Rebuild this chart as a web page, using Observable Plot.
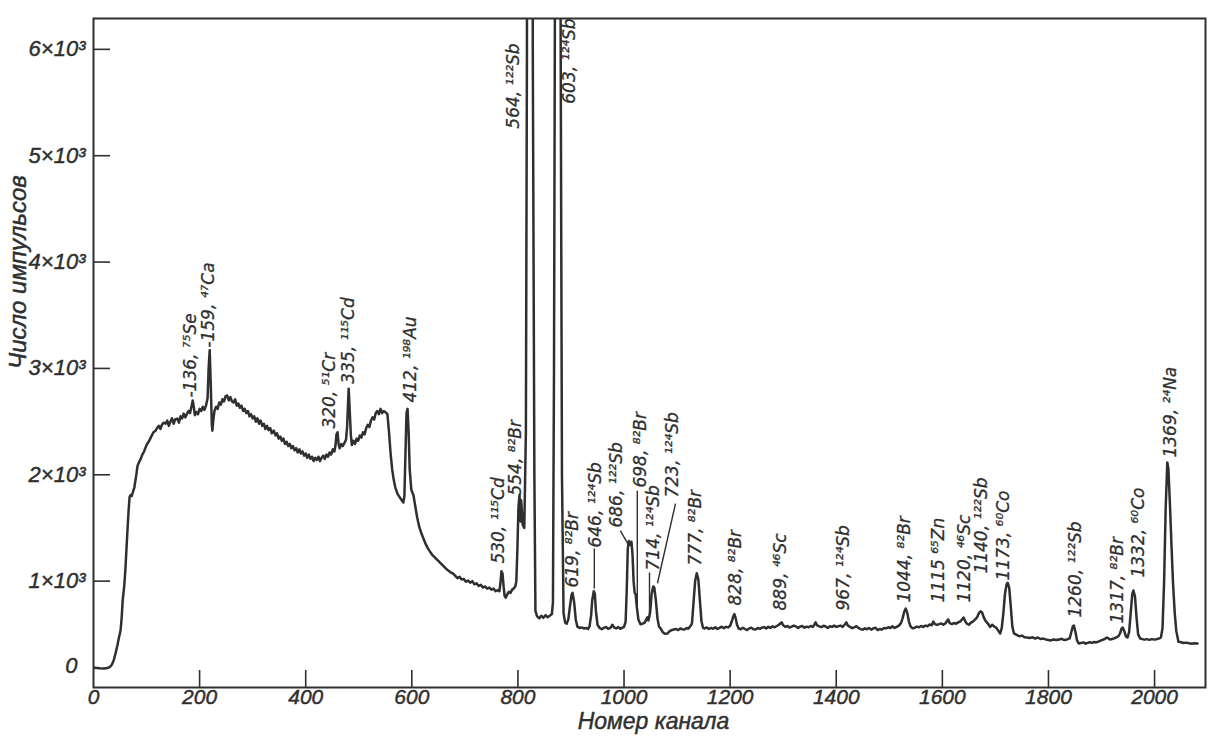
<!DOCTYPE html>
<html><head><meta charset="utf-8">
<script src="https://cdn.jsdelivr.net/npm/d3@7"></script>
<script src="https://cdn.jsdelivr.net/npm/@observablehq/plot@0.6"></script>
<style>
body{margin:0;background:#fff;}
#chart svg{display:block;}
</style></head><body><div id="chart"></div>
<script>
// gamma spectrum: [channel, counts]
const spectrum = [
[0,188],[6,184],[12,180],[18,178],[24,180],[30,190],[34,210],[38,254],[42,330],[45,395],[48,470],[51,536],[53,650],[55,818],[58,960],[60,1100],[62,1290],[64,1476],[66,1650],[68,1790],[70,1810],[72,1800],[75,1850],[77,1880],[79,1945],[81,2010],[83,2086],[86,2120],[89,2150],[92,2190],[95,2215],[98,2255],[101,2290],[104,2310],[107,2340],[110,2370],[113,2400],[117,2415],[120,2440],[123,2460],[126,2430],[129,2470],[132,2490],[136,2480],
[139,2510],[142,2460],[145,2500],[148,2530],[151,2480],[154,2520],[158,2528],[161,2490],[164,2550],[167,2530],[170,2575],[173,2540],[176,2570],[179,2600],[182,2580],[185,2650],[187,2698],[189,2640],[191,2560],[194,2590],[197,2570],[200,2620],[203,2600],[206,2640],[209,2610],[212,2650],[215,2720],[217,3000],[219,3170],[221,2850],[223,2480],[224,2415],[226,2520],[228,2600],[231,2640],[234,2620],
[237,2680],[240,2660],[243,2710],[246,2690],[249,2740],[252,2745],[255,2700],[258,2730],[261,2690],[264,2680],[267,2710],[270,2650],[273,2670],[276,2630],[279,2650],[282,2600],[285,2620],[288,2580],[291,2600],[294,2550],[297,2570],[300,2530],[303,2550],[306,2500],[309,2530],[312,2480],[315,2509],[318,2460],[321,2480],[324,2430],[327,2460],[330,2420],[333,2440],[336,2390],[340,2415],[343,2370],[346,2390],[349,2340],[352,2360],[355,2320],[358,2340],[361,2290],[364,2310],[367,2270],[370,2290],[373,2250],[376,2270],[379,2230],[382,2250],[385,2210],[388,2240],[391,2200],[394,2220],[397,2180],[400,2200],[403,2160],[406,2190],[409,2150],[412,2170],[415,2130],[418,2160],[421,2140],[424,2170],[427,2130],[430,2160],[433,2180],[436,2150],[439,2190],[442,2170],[445,2210],[448,2190],[451,2240],[454,2220],[456,2270],[458,2380],[460,2400],[462,2290],[464,2250],[467,2290],[470,2270],[473,2300],[476,2330],[478,2450],[480,2700],[481,2810],[483,2600],[485,2380],[487,2280],[490,2320],[493,2290],[496,2340],[499,2320],[502,2370],[505,2350],[508,2400],[511,2380],[514,2440],[517,2470],[520,2450],[523,2510],[526,2540],[529,2520],[532,2580],[535,2600],[538,2570],[541,2620],[544,2580],[547,2600],[550,2590],[554,2570],[557,2400],[560,2200],[563,2050],[566,1950],[569,1880],[573,1820],[577,1790],[581,1760],[584,1740],[586,1800],[588,2200],[590,2580],[592,2620],[594,2400],[596,2050],[599,1860],[603,1810],[606,1720],[610,1600],[614,1510],[618,1450],
[622,1400],[626,1350],[630,1310],[634,1280],[638,1250],[642,1230],[646,1210],[650,1190],[654,1170],[658,1150],[662,1130],[666,1110],[670,1095],[674,1080],[678,1070],[682,1050],[686,1028],[690,1040],[694,1015],[698,1020],[702,995],[706,1005],[710,985],[714,1000],[718,970],[722,980],[726,955],[730,965],[734,940],[738,950],[742,930],[746,940],[750,920],[754,930],[758,905],[762,915],[765,905],[767,980],[769,1094],[771,1070],[773,950],[775,860],[777,845],[780,877],[783,900],[786,890],[789,920],[792,930],[795,950],[797,1000],[799,1300],[801,1700],[803,1810],[804,1700],[805,1560],[806,1760],[807,1700],[809,1530],[812,1500],[815,2400],[817,6000],[818,30000],[827,30000],[828,6000],[831,2000],[833,720],
[836,670],[840,650],[844,675],[848,655],[852,680],[856,660],[860,675],[864,690],[866,800],[868,3000],[870,7000],[871,30000],[879,30000],[880,7000],[883,2000],[886,700],[889,610],[892,600],[895,640],[898,760],[901,870],[903,890],[906,800],[909,640],[912,572],[916,560],[920,565],[924,555],[928,560],[932,550],[935,575],[938,680],[940,820],[943,905],[945,880],[947,720],[950,590],[954,560],[958,548],[962,560],[966,568],[970,552],[974,558],[978,590],[981,565],[985,555],[989,568],[993,552],[996,560],[1000,570],[1003,620],[1005,900],[1007,1300],[1009,1377],[1012,1340],[1014,1370],[1016,1250],[1018,1000],[1020,890],[1022,877],[1024,760],[1027,640],[1031,594],[1035,600],[1039,610],[1042,640],[1044,660],[1046,630],[1049,700],[1052,880],[1055,950],[1057,940],[1060,820],[1063,650],[1066,570],[1069,555],[1073,520],[1077,505],[1082,508],[1086,530],[1090,540],[1094,545],[1098,550],[1102,540],[1106,555],[1110,548],[1114,545],[1118,560],[1121,552],[1124,570],[1128,600],[1131,800],[1134,1000],[1137,1075],[1140,1020],[1143,820],[1146,620],[1149,560],
[1152,555],[1156,565],[1160,550],[1164,560],[1168,552],[1172,566],[1176,550],[1180,560],[1184,572],[1188,558],[1192,570],[1196,565],[1200,580],[1203,620],[1206,670],[1208,690],[1210,660],[1213,590],[1216,555],[1220,548],[1224,562],[1228,550],[1232,540],[1236,556],[1240,562],[1244,548],[1248,545],[1252,560],[1256,552],[1260,562],[1264,568],[1268,556],[1272,570],[1276,560],[1280,575],[1284,566],[1288,578],[1292,590],[1295,605],[1297,612],[1300,585],[1304,570],[1308,578],[1312,564],[1316,572],[1320,582],[1324,574],[1328,560],[1332,572],[1336,578],[1340,562],[1344,572],[1348,566],[1352,578],[1356,570],[1359,592],[1361,612],[1364,585],[1368,575],[1372,568],[1376,580],[1380,574],[1384,560],[1388,576],[1392,570],[1396,582],[1400,570],[1404,576],[1408,582],[1412,570],[1416,592],[1419,612],[1422,582],[1426,570],[1430,558],[1434,566],[1438,576],[1442,560],[1446,548],[1450,544],[1454,556],[1458,548],[1462,560],[1466,544],[1470,556],[1474,562],[1478,540],[1482,550],[1486,544],[1490,560],[1494,556],[1498,566],[1502,560],[1506,576],[1510,560],[1514,570],[1518,582],[1522,605],[1525,650],[1528,710],[1531,742],[1534,700],[1537,620],[1540,575],[1544,556],[1548,562],[1552,572],[1556,566],[1560,578],[1564,570],[1568,582],[1572,576],[1576,592],[1580,585],[1583,620],[1586,596],[1590,588],[1594,596],[1598,602],[1602,590],[1606,604],[1609,628],[1611,640],[1614,605],[1618,596],[1622,606],[1626,600],[1630,612],[1634,622],[1637,640],[1640,658],[1643,625],[1646,600],[1650,590],[1654,610],[1658,622],[1662,640],[1666,665],[1669,700],[1672,716],[1675,705],[1678,660],[1682,622],[1686,600],[1690,570],[1694,590],[1698,572],[1702,560],[1706,530],[1709,508],[1712,560],[1715,700],[1718,880],[1721,970],[1723,985],[1726,940],[1729,760],[1732,570],[1735,508],[1740,495],[1745,482],[1750,488],[1755,472],[1760,470],[1765,466],[1770,472],[1775,460],[1780,470],[1785,456],[1790,460],[1795,452],[1800,446],[1804,442],[1810,452],[1815,446],[1820,452],[1825,458],[1830,446],[1835,452],[1840,462],[1843,520],[1846,575],[1848,583],[1851,520],[1854,440],[1857,414],[1861,418],[1866,424],[1870,412],[1874,420],[1878,426],[1882,420],[1886,428],[1890,424],[1894,432],[1898,440],[1902,448],[1906,456],[1910,470],[1913,462],[1916,452],[1920,456],[1924,462],[1928,472],[1932,482],[1935,510],[1938,555],[1940,564],[1943,530],[1946,480],[1949,470],[1952,520],[1955,700],[1958,880],[1960,912],[1963,860],[1966,660],[1969,500],[1973,460],[1977,455],[1981,450],[1985,455],[1990,448],[1995,455],[2000,450],[2005,456],[2009,462],[2012,470],[2015,560],[2018,1000],[2021,1700],[2024,2115],[2026,2060],[2029,1720],[2032,1320],[2035,960],[2038,700],[2041,530],[2045,430],[2050,426],[2055,418],[2060,422],[2065,416],[2070,412],[2075,416],[2081,414]
];

// axis ticks
const xTicks = [0, 200, 400, 600, 800, 1000, 1200, 1400, 1600, 1800, 2000];
const xTickLabels = ["0","200","400","600","800","1000","1200","1400","1600","1800","2000"];
const yTicks = [1000, 2000, 3000, 4000, 5000, 6000];
const yTickLabels = ["1×10³","2×10³","3×10³","4×10³","5×10³","6×10³"];

// peak annotations: text, channel of label, count at label foot
const peakText = ["-136, ⁷⁵Se","-159, ⁴⁷Ca","320, ⁵¹Cr","335, ¹¹⁵Cd","412, ¹⁹⁸Au","530, ¹¹⁵Cd","554, ⁸²Br","564, ¹²²Sb","603, ¹²⁴Sb","619, ⁸²Br","646, ¹²⁴Sb","686, ¹²²Sb","698, ⁸²Br","714, ¹²⁴Sb","723, ¹²⁴Sb","777, ⁸²Br","828, ⁸²Br","889, ⁴⁶Sc","967, ¹²⁴Sb","1044, ⁸²Br","1115 ⁶⁵Zn","1120, ⁴⁶Sc","1140, ¹²²Sb","1173, ⁶⁰Co","1260, ¹²²Sb","1317, ⁸²Br","1332, ⁶⁰Co","1369, ²⁴Na"];
const peakChannel = [183,217,445,481,598,763,795,792,897,903,946,986,1031,1056,1091,1135,1210,1295,1414,1529,1593,1642,1674,1715,1851,1930,1970,2030];
const peakCount = [2726,3195,2434,2857,2679,1165,1805,5254,5489,940,1316,1504,1880,1100,1786,1147,771,724,724,799,799,799,1071,1006,658,602,1034,2162];

// leader lines from label to peak
const leaderX1 = [944, 993, 1025, 1048, 1097];
const leaderY1 = [1306, 1475, 1851, 1081, 1729];
const leaderX2 = [944, 1007, 1025, 1048, 1063];
const leaderY2 = [930, 1353, 724, 658, 980];

const ink = "#2f2f2f";
const font = `"Liberation Sans", Arial, sans-serif`;
const supFont = `"DejaVu Sans", sans-serif`;
const idx = (a) => a.map((_, i) => i);
const txt = {fontStyle: "italic", fontFamily: font, fill: ink, stroke: ink, strokeWidth: 0.45};

const plot = Plot.plot({
  width: 1214, height: 740,
  marginLeft: 93, marginRight: 9, marginTop: 18, marginBottom: 53,
  x: {domain: [0, 2096], axis: null},
  y: {domain: [0, 6290], axis: null},
  style: {background: "#fff", color: ink},
  marks: [
    Plot.frame({stroke: ink, strokeWidth: 2}),
    Plot.ruleY(yTicks, {y: d => d, x1: 0, x2: 32, stroke: ink, strokeWidth: 1.6}),
    Plot.ruleX(xTicks.filter(d => d > 0), {x: d => d, y1: 0, y2: 160, stroke: ink, strokeWidth: 1.6}),
    Plot.line(spectrum, {x: d => d[0], y: d => d[1], stroke: ink, strokeWidth: 2.5, strokeLinejoin: "round", clip: true}),
    Plot.link(idx(leaderX1), {x1: i => leaderX1[i], y1: i => leaderY1[i], x2: i => leaderX2[i], y2: i => leaderY2[i], stroke: ink, strokeWidth: 1.4}),
    Plot.text(idx(peakText), {ariaLabel: "peaklabels", x: i => peakChannel[i], y: i => peakCount[i], text: i => peakText[i], rotate: -90, textAnchor: "start", fontSize: 17, ...txt, fontFamily: supFont, strokeWidth: 0.3}),
    Plot.text(idx(yTicks), {ariaLabel: "ylabels", x: 0, y: i => yTicks[i], text: i => yTickLabels[i], textAnchor: "end", dx: -8, fontSize: 22, ...txt}),
    Plot.text([0], {ariaLabel: "ylabels", x: 0, y: 0, text: () => "0", textAnchor: "end", dx: -16, dy: -22, fontSize: 22, ...txt}),
    Plot.text(idx(xTicks), {ariaLabel: "xlabels", x: i => xTicks[i], y: 0, text: i => xTickLabels[i], dy: 10, fontSize: 21, ...txt}),
    Plot.text(["Номер канала"], {ariaLabel: "xtitle", frameAnchor: "bottom", text: d => d, dx: 4, dy: 41, fontSize: 23, ...txt}),
    Plot.text(["Число импульсов"], {ariaLabel: "ytitle", frameAnchor: "left", text: d => d, rotate: -90, dx: -75, dy: 16, fontSize: 24, ...txt})
  ]
});
document.getElementById("chart").appendChild(plot);

// condense the lettering like the drafting font of the original
function squeeze(label, factor, target) {
  plot.querySelectorAll(`g[aria-label="${label}"] text`).forEach(t => {
    const L = t.getComputedTextLength();
    t.setAttribute("textLength", target != null ? target : L * factor);
    t.setAttribute("lengthAdjust", "spacingAndGlyphs");
  });
}
squeeze("peaklabels", 0.85);
squeeze("ylabels", 0.76);
squeeze("xlabels", 0.72);
squeeze("xtitle", null, 140);
squeeze("ytitle", null, 213);
</script>
</body></html>
